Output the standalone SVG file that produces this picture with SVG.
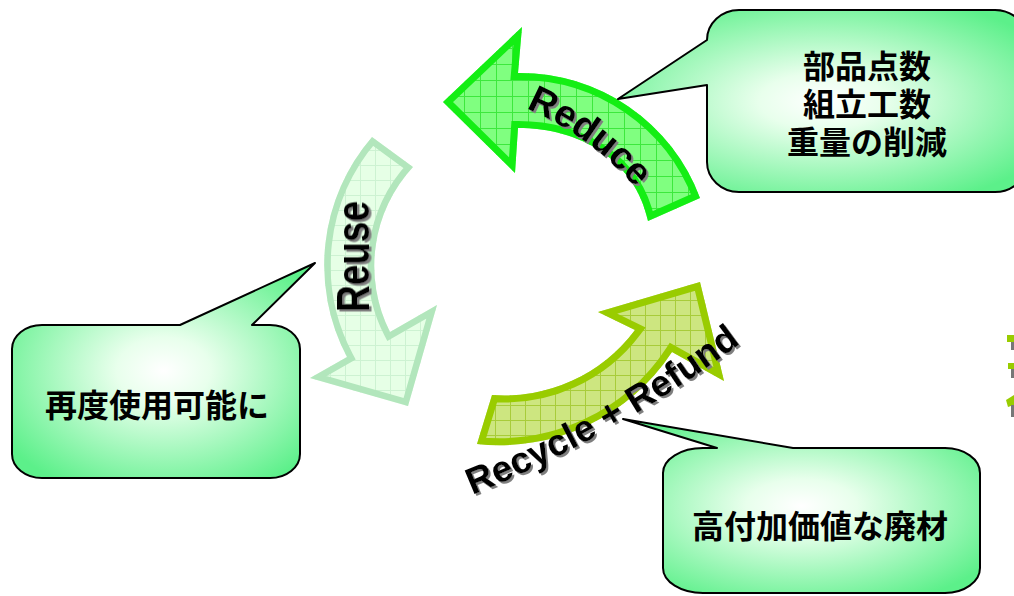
<svg xmlns="http://www.w3.org/2000/svg" width="1014" height="596" viewBox="0 0 1014 596">
<style>
  .callout { stroke:#000; stroke-width:2; fill:url(#calloutFill); stroke-linejoin:round; }
  .cjk { font-family:'Noto Sans CJK JP','Noto Sans CJK SC',sans-serif; font-weight:bold; font-size:32px; fill:#000; text-anchor:middle; }
  .lbl { font-family:'Liberation Sans',Arial,sans-serif; font-weight:bold; font-size:38px; fill:#000; filter:url(#shadow); }
</style>
<defs>
  <radialGradient id="calloutFill" cx="0.5" cy="0.5" r="0.62">
    <stop offset="0" stop-color="#ffffff"/>
    <stop offset="0.25" stop-color="#e8ffec"/>
    <stop offset="1" stop-color="#5cf08a"/>
  </radialGradient>
  <pattern id="gridReduce" patternUnits="userSpaceOnUse" width="16" height="16">
    <rect width="16" height="16" fill="#80ff80"/>
    <path d="M0 0.5 H16 M0.5 0 V16" stroke="#3de83d" stroke-width="1"/>
  </pattern>
  <pattern id="gridReuse" patternUnits="userSpaceOnUse" width="15" height="15">
    <rect width="15" height="15" fill="#e6ffe6"/>
    <path d="M0 0.5 H15 M0.5 0 V15" stroke="#cdf2d2" stroke-width="1"/>
  </pattern>
  <pattern id="gridRecycle" patternUnits="userSpaceOnUse" width="15" height="15">
    <rect width="15" height="15" fill="#cde680"/>
    <path d="M0 0.5 H15 M0.5 0 V15" stroke="#a8cc3a" stroke-width="1"/>
  </pattern>
  <path id="reduceShape" d="M 700,198 A 192 192 0 0 0 518,73 L 522,27 L 443,102 L 515,173 L 518,128 C 580,128 635,160 648,221 Z"/>
  <path id="reuseShape" d="M 372,137 A 196 196 0 0 0 347,357 L 310,378 L 408,406 L 437,305 L 390,332 A 146 146 0 0 1 413,167 Z"/>
  <path id="recycleShape" d="M 492,395 A 163 163 0 0 0 635,330 L 598,312 L 700,282 L 724,381 L 672,352 A 207 207 0 0 1 477,444 Z"/>
  <clipPath id="reduceClip"><use href="#reduceShape"/></clipPath>
  <clipPath id="reuseClip"><use href="#reuseShape"/></clipPath>
  <clipPath id="recycleClip"><use href="#recycleShape"/></clipPath>
  <path id="reduceTextPath" d="M 388.2,85.3 A 300 300 0 0 1 700.2,312" fill="none"/>
  <path id="recycleTextPath" d="M 318,545.7 A 1200 1200 0 0 0 864,237" fill="none"/>
  <filter id="shadow" x="-10%" y="-20%" width="130%" height="150%">
    <feDropShadow dx="2" dy="2" stdDeviation="0.6" flood-color="#7f7f7f" flood-opacity="1"/>
  </filter>
  <filter id="shadowR" x="-10%" y="-30%" width="130%" height="160%">
    <feDropShadow dx="-2" dy="2" stdDeviation="0.6" flood-color="#7f7f7f" flood-opacity="1"/>
  </filter>
</defs>

<g id="arrow-reduce">
  <use href="#reduceShape" fill="url(#gridReduce)"/>
  <use href="#reduceShape" fill="none" stroke="#14ee14" stroke-width="14" clip-path="url(#reduceClip)"/>
  <text class="lbl"><textPath href="#reduceTextPath" startOffset="50%" text-anchor="middle">Reduce</textPath></text>
</g>

<g id="arrow-reuse">
  <use href="#reuseShape" fill="url(#gridReuse)"/>
  <use href="#reuseShape" fill="none" stroke="#b2e6bc" stroke-width="13" clip-path="url(#reuseClip)"/>
  <text class="lbl" transform="translate(369,256.5) rotate(-90) scale(1,1.25)" x="0" y="0" text-anchor="middle" style="font-size:37px; filter:url(#shadowR)">Reuse</text>
</g>

<g id="arrow-recycle">
  <use href="#recycleShape" fill="url(#gridRecycle)"/>
  <use href="#recycleShape" fill="none" stroke="#99cc00" stroke-width="14" clip-path="url(#recycleClip)"/>
  <text class="lbl" style="font-size:37px"><textPath href="#recycleTextPath" startOffset="50%" text-anchor="middle">Recycle + Refund</textPath></text>
</g>

<g id="connectors"></g>

<g id="callout-reduce">
  <path class="callout" d="M 739,10 H 995 A 32 30 0 0 1 1027,40 V 162 A 32 30 0 0 1 995,192 H 739 A 32 30 0 0 1 707,162 V 85 L 618,99 L 707,40 A 32 30 0 0 1 739,10 Z"/>
  <text class="cjk" x="867" y="78">部品点数</text>
  <text class="cjk" x="867" y="116">組立工数</text>
  <text class="cjk" x="867" y="154">重量の削減</text>
</g>

<g id="callout-reuse">
  <path class="callout" d="M 42,325 H 180 L 315,263 L 252,325 H 270 A 30 24 0 0 1 300,349 V 454 A 30 24 0 0 1 270,478 H 42 A 30 24 0 0 1 12,454 V 349 A 30 24 0 0 1 42,325 Z"/>
  <text class="cjk" x="157" y="417">再度使用可能に</text>
</g>

<g id="callout-recycle">
  <path class="callout" d="M 717,448 L 623,419 L 793,448 H 945 A 35 25 0 0 1 980,473 V 568 A 35 25 0 0 1 945,593 H 703 A 40 25 0 0 1 663,568 V 473 A 40 25 0 0 1 703,448 Z"/>
  <text class="cjk" x="820" y="538">高付加価値な廃材</text>
</g>

<g id="edge-fragment">
  <rect x="1007" y="335" width="7" height="7" fill="#99cc00"/>
  <rect x="1011" y="342" width="3" height="8" fill="#777"/>
  <rect x="1008" y="363" width="6" height="6" fill="#99cc00"/>
  <rect x="1011" y="369" width="3" height="9" fill="#777"/>
  <polygon points="1006,400 1014,395 1014,405 1008,407" fill="#99cc00"/>
  <rect x="1011" y="405" width="3" height="12" fill="#777"/>
</g>
</svg>
